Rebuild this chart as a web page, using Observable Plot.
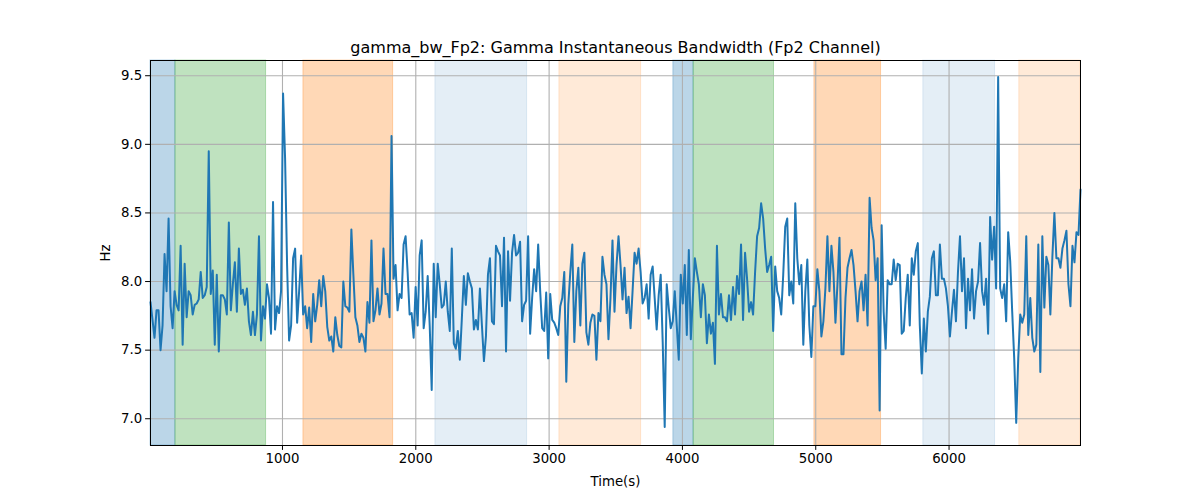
<!DOCTYPE html>
<html><head><meta charset="utf-8">
<script src="https://cdn.jsdelivr.net/npm/d3@7"></script>
<script src="https://cdn.jsdelivr.net/npm/@observablehq/plot@0.6"></script>
<style>body{margin:0;background:#fff} svg{display:block}</style>
</head><body><div id="chart"></div>
<script>
const title = "gamma_bw_Fp2: Gamma Instantaneous Bandwidth (Fp2 Channel)";
const xLabel = "Time(s)";
const yLabel = "Hz";
const xTicks = [1000, 2000, 3000, 4000, 5000, 6000];
const yTicks = [7.0, 7.5, 8.0, 8.5, 9.0, 9.5];

// Gamma instantaneous bandwidth (Hz), regularly sampled
const bandwidth = [
  7.85,7.72,7.59,7.79,7.79,7.50,7.68,8.20,7.93,8.46,7.82,7.66,7.93,7.83,7.79,8.26,7.54,8.13,7.74,7.93,7.90,
  7.76,7.83,7.84,7.87,8.07,7.88,7.90,7.96,8.95,7.91,8.08,7.54,8.05,7.49,7.90,7.90,7.87,7.76,8.43,7.79,
  7.98,8.14,7.78,8.24,7.91,7.94,7.83,7.95,7.71,7.61,7.78,7.61,7.76,8.33,7.57,7.82,7.73,7.98,7.88,7.62,
  8.58,7.65,7.82,7.77,7.93,
  9.37,8.90,8.12,7.57,7.68,8.17,8.24,7.70,7.93,8.19,7.76,7.82,7.66,7.81,7.56,7.91,7.71,7.83,8.01,7.82,
  8.04,7.93,7.67,7.57,7.60,7.49,7.74,7.61,7.53,7.52,8.00,7.82,7.81,7.78,8.38,8.05,7.74,7.68,7.56,7.62,
  7.59,7.49,7.85,7.70,8.30,7.71,7.79,7.95,7.76,7.84,8.24,7.91,7.91,7.74,9.06,8.02,8.12,7.79,7.91,7.88,
  8.27,8.33,8.07,7.76,7.77,7.59,
  7.96,7.68,8.19,8.30,7.66,7.78,8.04,7.68,7.21,8.13,7.74,8.13,7.98,7.81,7.83,8.00,7.78,7.64,8.24,7.55,
  7.51,7.64,7.43,7.73,8.04,7.83,8.06,8.00,7.95,7.65,7.72,7.65,7.95,7.68,7.42,7.60,8.05,8.17,7.71,7.69,
  8.26,8.22,8.19,7.82,8.32,7.49,8.22,7.86,8.21,8.34,8.19,8.21,8.29,7.71,7.83,7.86,8.33,7.62,7.88,8.09,
  7.93,8.27,7.93,7.66,7.64,7.92,7.44,
  7.91,7.72,7.70,7.66,7.61,7.82,7.88,8.07,7.27,7.83,8.07,8.27,7.56,7.93,8.10,7.68,8.13,8.21,7.63,7.54,
  7.70,7.76,7.75,7.43,7.77,7.71,8.18,8.05,7.98,7.58,7.88,8.30,7.78,8.12,8.33,8.12,7.87,8.10,7.77,7.89,
  7.66,7.93,8.21,8.13,8.24,8.07,7.84,7.88,7.98,7.73,8.05,8.11,7.88,7.65,7.90,8.05,7.56,6.94,7.98,7.81,
  7.66,7.71,7.93,7.68,7.43,8.05,
  7.84,8.12,7.61,8.23,7.58,7.88,8.17,8.07,7.98,7.74,7.98,7.90,7.55,7.76,7.62,7.70,7.40,8.26,7.76,7.91,
  7.74,7.74,7.71,7.90,7.72,7.96,7.76,8.04,7.91,8.27,7.72,8.21,8.02,7.78,7.85,7.76,8.07,8.33,8.39,8.57,
  8.46,8.24,8.07,8.12,8.18,7.64,8.11,7.93,7.88,7.76,8.05,8.40,8.46,7.90,8.00,7.84,8.57,8.17,7.98,8.12,
  7.54,7.93,8.16,7.68,7.45,7.82,
  7.82,8.09,7.93,7.60,7.71,7.95,8.33,7.93,8.26,8.07,7.70,7.98,8.32,7.47,7.47,7.88,8.10,8.17,8.23,8.12,
  7.93,7.71,7.93,8.00,7.79,8.05,7.68,8.61,8.39,8.30,8.01,8.17,7.06,8.41,7.78,7.51,8.01,7.98,7.98,8.16,
  8.01,8.13,8.12,7.62,7.64,7.88,8.05,7.68,8.17,8.05,8.22,8.28,7.68,7.33,7.73,7.49,7.78,7.89,8.17,8.22,
  7.90,7.90,8.27,8.02,8.02,7.95,7.82,
  7.60,7.78,7.94,7.71,8.07,8.33,7.93,8.17,7.66,8.02,7.79,8.09,7.73,7.93,8.00,8.28,7.93,7.83,8.02,7.62,
  8.47,8.16,8.40,7.95,9.49,7.95,7.88,7.98,7.71,8.36,8.15,7.78,7.44,6.97,7.44,7.76,7.70,7.76,8.33,7.61,
  7.88,7.59,7.49,7.54,8.27,7.34,8.33,7.81,8.18,8.12,7.76,8.18,8.50,8.17,8.17,8.10,8.24,8.30,8.37,7.98,
  7.82,8.26,8.14,8.36,8.34,8.67
];
const tStart = 10;
const tEnd = 6986;

// Shaded state spans (seconds)
const spanStart = [10, 197, 1157, 2147, 3077, 3932, 4084, 4990, 5807, 6527];
const spanEnd   = [197, 877, 1830, 2835, 3690, 4084, 4687, 5490, 6345, 6986];
const spanKind  = ["A", "B", "C", "D", "E", "A", "B", "C", "D", "E"];

const kindFill = {A: "#1f77b4", B: "#2ca02c", C: "#ff7f0e", D: "#1f77b4", E: "#ff7f0e"};
const kindOpacity = {A: 0.3, B: 0.3, C: 0.3, D: 0.12, E: 0.16};

const step = (tEnd - tStart) / (bandwidth.length - 1);
const series = bandwidth.map((v, i) => ({t: tStart + i * step, v}));
const spans = spanStart.map((s, i) => ({start: s, end: spanEnd[i], kind: spanKind[i]}));

const yMin = 6.805, yMax = 9.611;

const chart = Plot.plot({
  width: 1200,
  height: 500,
  marginLeft: 150,
  marginRight: 120,
  marginTop: 60,
  marginBottom: 55,
  style: {fontFamily: "DejaVu Sans", fontSize: "13.3px", color: "black", background: "white"},
  x: {domain: [tStart, tEnd]},
  y: {domain: [yMin, yMax]},
  marks: [
    Plot.rect(spans, {
      x1: "start", x2: "end", y1: yMin, y2: yMax,
      fill: d => kindFill[d.kind],
      fillOpacity: d => kindOpacity[d.kind],
      stroke: d => kindFill[d.kind],
      strokeOpacity: d => kindOpacity[d.kind]
    }),
    Plot.gridX(xTicks, {stroke: "#b0b0b0", strokeOpacity: 1, strokeWidth: 1.1}),
    Plot.gridY(yTicks, {stroke: "#b0b0b0", strokeOpacity: 1, strokeWidth: 1.1}),
    Plot.line(series, {x: "t", y: "v", stroke: "#1f77b4", strokeWidth: 2}),
    Plot.frame({stroke: "black", strokeWidth: 1}),
    Plot.axisX({ticks: xTicks, tickFormat: d3.format("d"), tickSize: 4.9, tickPadding: 3.5,
      label: xLabel, labelAnchor: "center", labelArrow: "none", labelOffset: 40, fontSize: 13.3}),
    Plot.axisY({ticks: yTicks, tickFormat: d3.format(".1f"), tickSize: 4.9, tickPadding: 3.5,
      label: yLabel, labelAnchor: "center", labelArrow: "none", labelOffset: 50, fontSize: 13.3}),
    Plot.text([title], {frameAnchor: "top", dy: -8, lineAnchor: "bottom", fontSize: 16, fill: "black"})
  ]
});
document.getElementById("chart").appendChild(chart);
</script>
</body></html>
